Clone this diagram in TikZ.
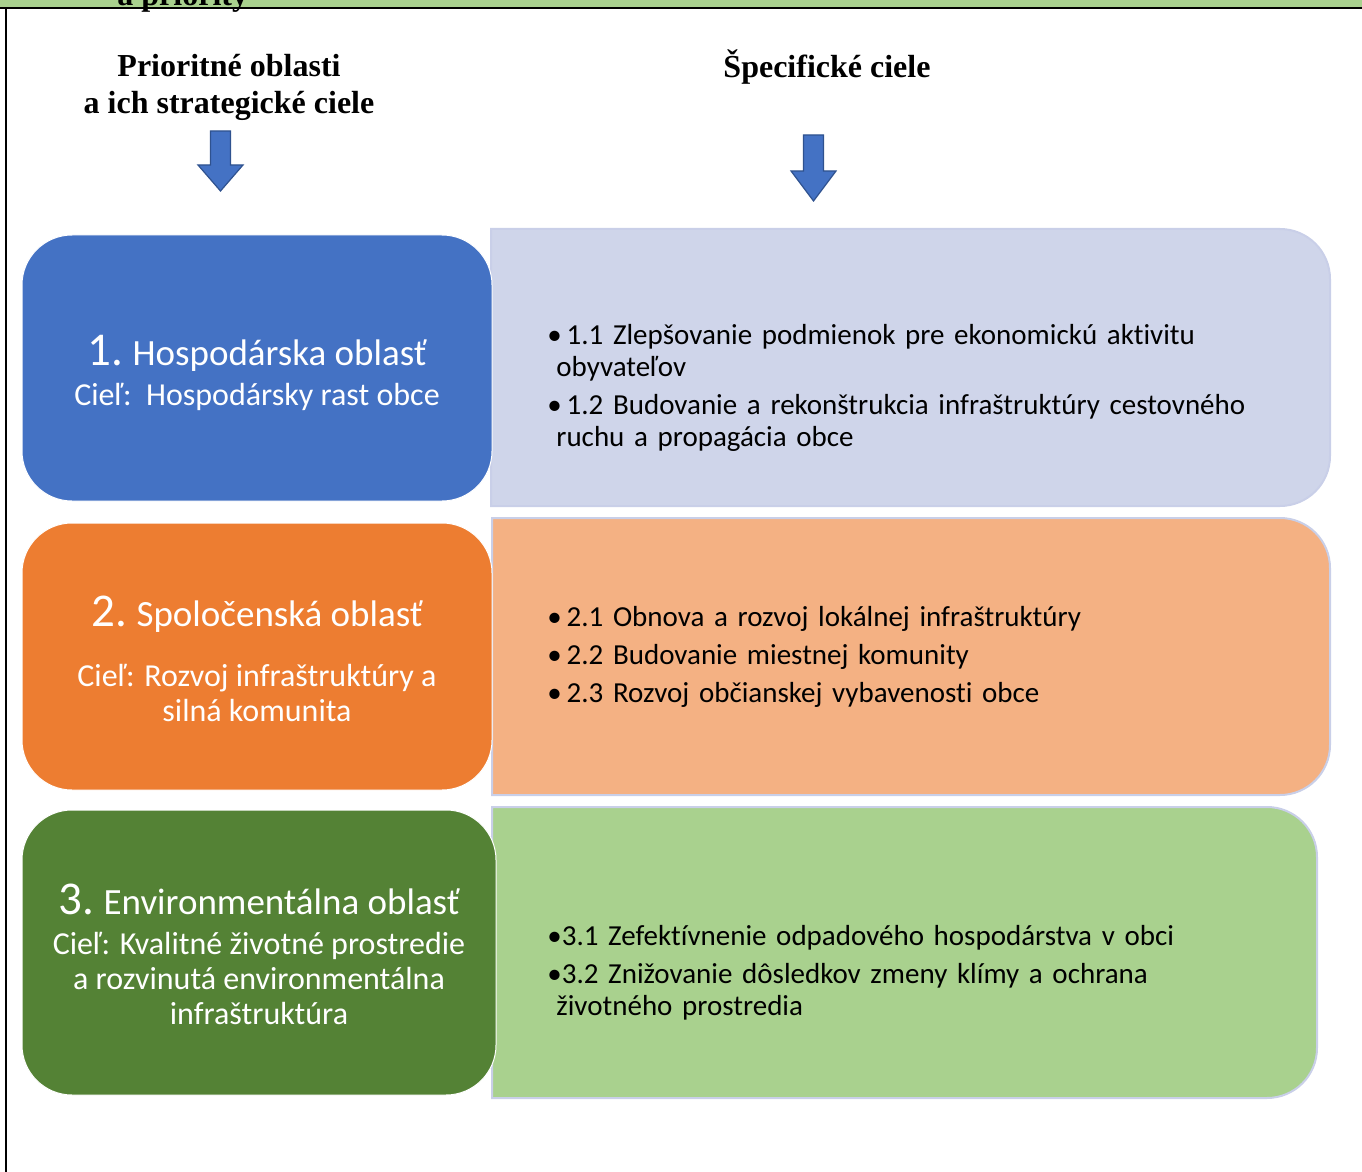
\documentclass[tikz,border=0pt]{standalone}
\usepackage{fontspec}
\setmainfont{Carlito}[RawFeature={-liga;-clig;-dlig}]
\newfontfamily\hlavfont{Liberation Serif}
\usetikzlibrary{positioning}
\definecolor{modra}{HTML}{4472C4}
\definecolor{modraok}{HTML}{2F528F}
\definecolor{oranz}{HTML}{ED7D31}
\definecolor{zelena}{HTML}{548235}
\definecolor{levand}{HTML}{CFD5EA}
\definecolor{lososova}{HTML}{F4B183}
\definecolor{svzel}{HTML}{A9D18E}
\definecolor{okraj}{HTML}{C9CFE8}
\newcommand{\bod}[1]{\par\hangindent=4.5pt\hangafter=1\textbullet\,#1\par}
\newcommand{\bodt}[1]{\par\hangindent=4.5pt\hangafter=1\textbullet#1\par}
\newcommand{\velke}[1]{{\fontsize{23.5}{24}\selectfont #1}}
\newcommand{\stred}[1]{{\fontsize{18.5}{20}\selectfont #1}}
% pravy box: zaoblene len vpravo
\newcommand{\pravy}[6]{%
    \draw[pra,fill=#6] (#2,#3) -- ([xshift=-25pt]#4,#3) arc(90:0:25pt)
        -- ([yshift=25pt]#4,#5) arc(0:-90:25pt) -- (#2,#5) -- cycle;
    \coordinate (#1) at (#2,#3);}
\newcommand{\sipka}[4]{%
    \draw[sip] (#1-10,#2) -- (#1+10,#2) -- (#1+10,#3) -- (#1+22.5,#3)
        -- (#1,#4) -- (#1-22.5,#3) -- (#1-10,#3) -- cycle;}
\tikzset{%
    obl/.style={rectangle, rounded corners=25pt, draw=white, line width=0.5pt,
        minimum width=235pt, minimum height=133pt, inner sep=0pt},
    obt/.style={text=white, align=center, inner sep=0pt, font=\fontsize{16}{17.5}\selectfont},
    cie/.style={text width=380pt, align=left, inner sep=0pt,
        font=\fontsize{14.5}{16}\selectfont\setlength{\parskip}{3pt}},
    hla/.style={font=\hlavfont\bfseries\fontsize{16}{18.5}\selectfont, align=center, inner sep=0pt},
    pra/.style={draw=okraj, line width=1pt},
    sip/.style={fill=modra, draw=modraok, line width=0.6pt},
}
\begin{document}
\begin{tikzpicture}[x=0.5pt, y=-0.5pt]
    \useasboundingbox (0,0) rectangle (1362,1172);
    \fill[svzel] (0,0) rectangle (1362,8);
    \node[hla, anchor=base west] (tit) at (117,6) {a priority};
    \draw[line width=1.1pt] (0,7.8) -- (1362,7.8) (6.2,7.8) -- (6.2,1172);
    % hlavicky
    \node[hla] (h1) at (229,87) {Prioritné oblasti\\a ich strategické ciele};
    \node[hla] (h2) at (827,67) {Špecifické ciele};
    \sipka{220.5}{131}{165}{191}
    \sipka{813.5}{135}{171}{201}
    % prave boxy
    \pravy{p1}{491}{229}{1330}{506}{levand}
    \pravy{p2}{492}{518}{1330}{795}{lososova}
    \pravy{p3}{492}{807}{1317}{1098}{svzel}
    % lave boxy
    \node[obl, fill=modra] (o1) at (257,368) {};
    \node[obl, fill=oranz, minimum height=133.5pt] (o2) at (257,656.5) {};
    \node[obl, fill=zelena, minimum width=237pt, minimum height=142.5pt] (o3) at (259,952.5) {};
    \node[obt] (t1) at ([yshift=-2.5pt]o1.center) {\velke{1.} \stred{Hospodárska oblasť}\\[2.5pt]Cieľ:\ \ Hospodársky rast obce};
    \node[obt] (t2) at ([yshift=-1pt]o2.center) {\velke{2.} \stred{Spoločenská oblasť}\\[12.5pt]Cieľ: Rozvoj infraštruktúry a\\silná komunita};
    \node[obt] (t3) at ([yshift=-1pt]o3.center) {\velke{3.} \stred{Environmentálna oblasť}\\[2.5pt]Cieľ: Kvalitné životné prostredie\\a rozvinutá environmentálna\\infraštruktúra};
    % ciele
    \node[cie, anchor=west] (c1) at (547,379) {\raggedright\bod{1.1 Zlepšovanie podmienok pre ekonomickú aktivitu\newline obyvateľov}\bod{1.2 Budovanie a rekonštrukcia infraštruktúry cestovného\newline ruchu a propagácia obce}};
    \node[cie, anchor=west] (c2) at (547,648) {\raggedright\bod{2.1 Obnova a rozvoj lokálnej infraštruktúry}\bod{2.2 Budovanie miestnej komunity}\bod{2.3 Rozvoj občianskej vybavenosti obce}};
    \node[cie, anchor=west] (c3) at (547,964) {\raggedright\bodt{3.1 Zefektívnenie odpadového hospodárstva v obci}\bodt{3.2 Znižovanie dôsledkov zmeny klímy a ochrana\newline životného prostredia}};
\end{tikzpicture}
\end{document}
